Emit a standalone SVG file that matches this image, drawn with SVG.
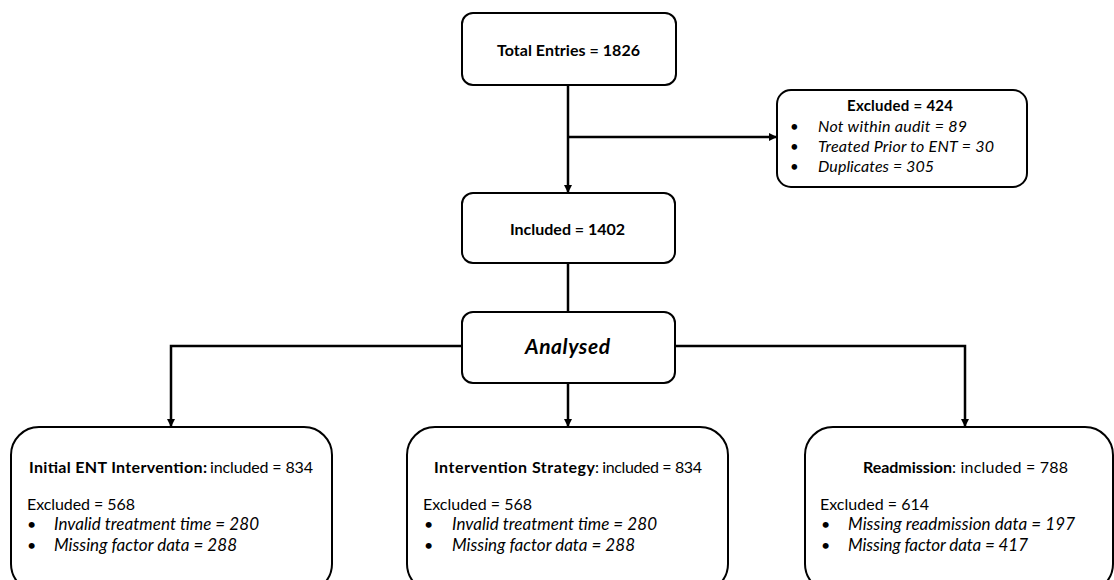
<svg xmlns="http://www.w3.org/2000/svg" width="1114" height="580" viewBox="0 0 1114 580">
<defs>
<style>
.box{fill:#fff;stroke:#000;stroke-width:2}
.con{fill:none;stroke:#000;stroke-width:2.5}
text{font-family:Lato,"Open Sans",sans-serif;fill:#000;font-size:16px}
.s{font-size:15px}
.b{font-weight:bold}
.i{font-style:italic;font-size:17px}
.is{font-style:italic;font-size:16px}
</style>
<marker id="ah" markerWidth="8" markerHeight="8" refX="7" refY="4" orient="auto" markerUnits="userSpaceOnUse">
<path d="M0,0 L8,4 L0,8 z" fill="#000"/>
</marker>
</defs>
<rect width="1114" height="580" fill="#fff"/>
<g id="connectors">
<path class="con" d="M568,85 V192" marker-end="url(#ah)"/>
<path class="con" d="M568,137 H776" marker-end="url(#ah)"/>
<path class="con" d="M568,263 V312"/>
<path class="con" d="M462,346 H171 V426" marker-end="url(#ah)"/>
<path class="con" d="M568,383 V426" marker-end="url(#ah)"/>
<path class="con" d="M675,346 H965 V426" marker-end="url(#ah)"/>
</g>
<g id="total">
<rect class="box" x="462" y="13" width="214" height="72" rx="11"/>
<text class="b" x="497" y="56" textLength="143">Total Entries = 1826</text>
</g>
<g id="excluded">
<rect class="box" x="777" y="90" width="250" height="97" rx="14"/>
<text class="b s" x="847" y="111" textLength="106">Excluded = 424</text>
<text class="s" x="790" y="132">•</text><text class="is" x="818" y="132" textLength="149">Not within audit = 89</text>
<text class="s" x="790" y="152">•</text><text class="is" x="818" y="152" textLength="176">Treated Prior to ENT = 30</text>
<text class="s" x="790" y="172">•</text><text class="is" x="818" y="172" textLength="116">Duplicates = 305</text>
</g>
<g id="included">
<rect class="box" x="462" y="193" width="213" height="70" rx="11"/>
<text class="b" x="510" y="235" textLength="115">Included = 1402</text>
</g>
<g id="analysed">
<rect class="box" x="462" y="312" width="213" height="71" rx="11"/>
<text class="b" x="525" y="354" textLength="85" style="font-size:21px;font-style:italic">Analysed</text>
</g>
<g id="initial">
<rect class="box" x="11" y="427" width="321" height="165" rx="28"/>
<text class="b" x="29" y="473" textLength="178">Initial ENT Intervention:</text>
<text x="210" y="473" textLength="103">included = 834</text>
<text x="27" y="510" textLength="108">Excluded = 568</text>
<text x="27" y="530">•</text><text class="i" x="54" y="530" textLength="205">Invalid treatment time = 280</text>
<text x="27" y="551">•</text><text class="i" x="54" y="551" textLength="183">Missing factor data = 288</text>
</g>
<g id="strategy">
<rect class="box" x="407" y="427" width="321" height="165" rx="28"/>
<text class="b" x="434" y="473" textLength="161">Intervention Strategy</text>
<text x="595" y="473" textLength="107">: included = 834</text>
<text x="423" y="510" textLength="109">Excluded = 568</text>
<text x="424" y="530">•</text><text class="i" x="452" y="530" textLength="205">Invalid treatment time = 280</text>
<text x="424" y="551">•</text><text class="i" x="452" y="551" textLength="183">Missing factor data = 288</text>
</g>
<g id="readmission">
<rect class="box" x="805" y="427" width="308" height="165" rx="28"/>
<text class="b" x="863" y="473" textLength="89">Readmission</text>
<text x="952" y="473" textLength="116">: included = 788</text>
<text x="820" y="510" textLength="109">Excluded = 614</text>
<text x="821" y="530">•</text><text class="i" x="848" y="530" textLength="227">Missing readmission data = 197</text>
<text x="821" y="551">•</text><text class="i" x="848" y="551" textLength="180">Missing factor data = 417</text>
</g>
</svg>
